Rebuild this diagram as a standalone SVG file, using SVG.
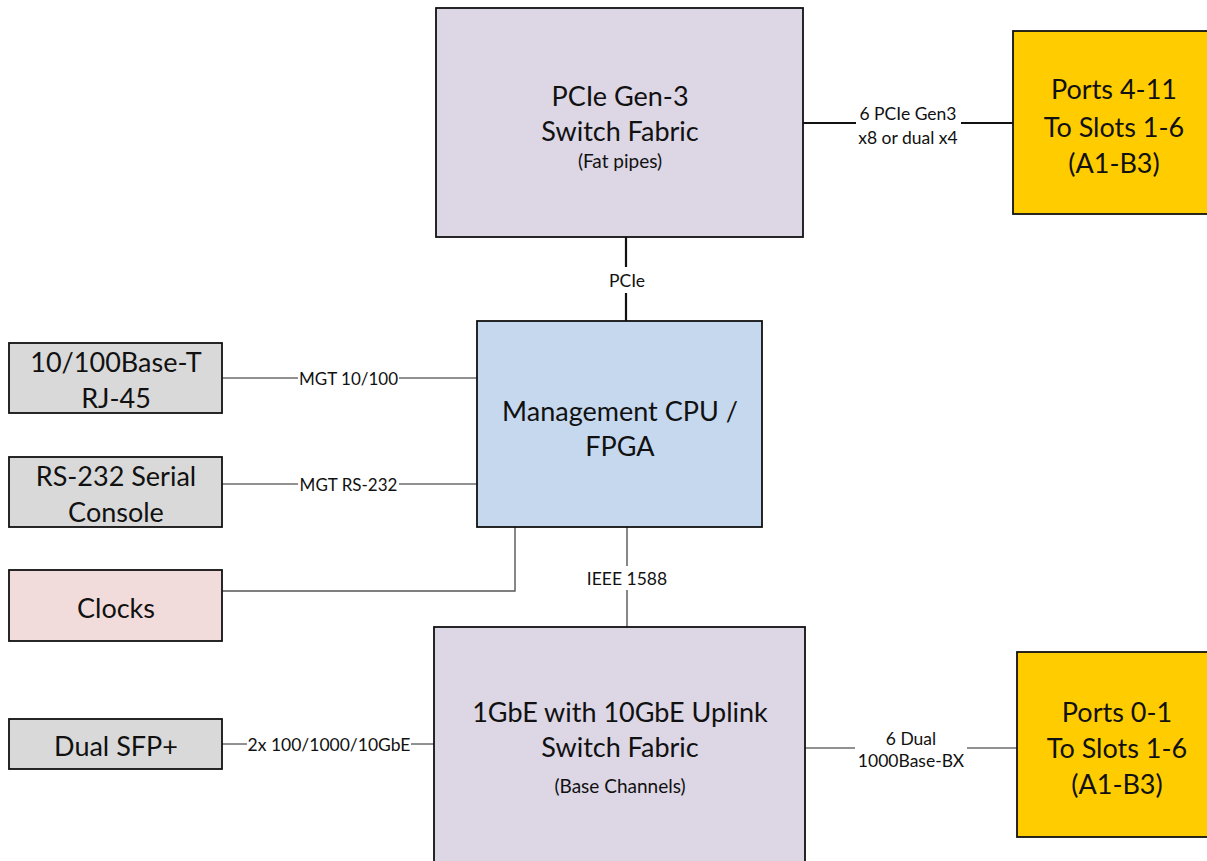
<svg xmlns="http://www.w3.org/2000/svg" width="1207" height="861" viewBox="0 0 1207 861">
<style>
text{font-family:Lato,"Noto Sans","Liberation Sans",sans-serif;fill:#111;text-anchor:middle;dominant-baseline:central}
.big{font-size:27px}
.port{font-size:27px}
.sm{font-size:19px}
.lbl{font-size:17.5px}
.mgt{font-size:17px}
.box{stroke:#111;stroke-width:1.8}
.thick{stroke:#111;stroke-width:2.2;fill:none}
.thin{stroke:#222;stroke-width:1;fill:none}
.gray{stroke:#555;stroke-width:1.4;fill:none}
</style>
<rect width="1207" height="861" fill="#fff"/>
<g id="connectors">
<line class="thick" x1="626" y1="237" x2="626" y2="267"/>
<line class="thick" x1="626" y1="293" x2="626" y2="321"/>
<text class="lbl" x="627" y="280">PCIe</text>
<line class="thick" x1="803" y1="123" x2="856" y2="123"/>
<line class="thick" x1="961" y1="123" x2="1013" y2="123"/>
<text class="lbl" x="908" y="113">6 PCIe Gen3</text>
<text class="lbl" x="908" y="137">x8 or dual x4</text>
<line class="thin" x1="222" y1="378" x2="298" y2="378"/>
<line class="thin" x1="399" y1="378" x2="477" y2="378"/>
<text class="mgt" x="348.5" y="378">MGT 10/100</text>
<line class="thin" x1="222" y1="484" x2="298" y2="484"/>
<line class="thin" x1="399" y1="484" x2="477" y2="484"/>
<text class="mgt" x="348.5" y="484">MGT RS-232</text>
<polyline class="gray" points="222,591 515,591 515,527"/>
<line class="gray" x1="627" y1="527" x2="627" y2="566"/>
<line class="gray" x1="627" y1="590" x2="627" y2="627"/>
<text class="lbl" x="627" y="578">IEEE 1588</text>
<line class="thin" x1="222" y1="744" x2="247" y2="744"/>
<line class="thin" x1="411" y1="744" x2="434" y2="744"/>
<text class="lbl" x="329" y="744">2x 100/1000/10GbE</text>
<line class="thin" x1="805" y1="748" x2="855" y2="748"/>
<line class="thin" x1="967" y1="748" x2="1017" y2="748"/>
<text class="lbl" x="911" y="738">6 Dual</text>
<text class="lbl" x="911" y="760">1000Base-BX</text>
</g>
<g id="pcie-switch">
<rect class="box" x="436" y="8" width="367" height="229" fill="#dcd6e5"/>
<text class="big" x="620" y="95">PCIe Gen-3</text>
<text class="big" x="620" y="130">Switch Fabric</text>
<text class="sm" x="620" y="160">(Fat pipes)</text>
</g>
<g id="ports-4-11">
<rect class="box" x="1013" y="31" width="200" height="183" fill="#ffcc00"/>
<text class="port" x="1114" y="88">Ports 4-11</text>
<text class="port" x="1114" y="126">To Slots 1-6</text>
<text class="port" x="1114" y="162">(A1-B3)</text>
</g>
<g id="mgmt-cpu">
<rect class="box" x="477" y="321" width="285" height="206" fill="#c6d8ee"/>
<text class="big" x="620" y="410">Management CPU /</text>
<text class="big" x="620" y="445">FPGA</text>
</g>
<g id="rj45">
<rect class="box" x="9" y="343" width="213" height="70" fill="#d9d9d9"/>
<text class="big" x="116" y="361">10/100Base-T</text>
<text class="big" x="116" y="397">RJ-45</text>
</g>
<g id="rs232">
<rect class="box" x="9" y="457" width="213" height="70" fill="#d9d9d9"/>
<text class="big" x="116" y="475">RS-232 Serial</text>
<text class="big" x="116" y="511">Console</text>
</g>
<g id="clocks">
<rect class="box" x="9" y="570" width="213" height="71" fill="#f2dcdb"/>
<text class="big" x="116" y="607">Clocks</text>
</g>
<g id="dual-sfp">
<rect class="box" x="9" y="719" width="213" height="50" fill="#d9d9d9"/>
<text class="big" x="116" y="745">Dual SFP+</text>
</g>
<g id="gbe-switch">
<rect class="box" x="434" y="627" width="371" height="245" fill="#dcd6e5"/>
<text class="big" x="620" y="711">1GbE with 10GbE Uplink</text>
<text class="big" x="620" y="746">Switch Fabric</text>
<text class="sm" x="620" y="785">(Base Channels)</text>
</g>
<g id="ports-0-1">
<rect class="box" x="1017" y="652" width="200" height="185" fill="#ffcc00"/>
<text class="port" x="1117" y="711">Ports 0-1</text>
<text class="port" x="1117" y="747">To Slots 1-6</text>
<text class="port" x="1117" y="783">(A1-B3)</text>
</g>
</svg>
